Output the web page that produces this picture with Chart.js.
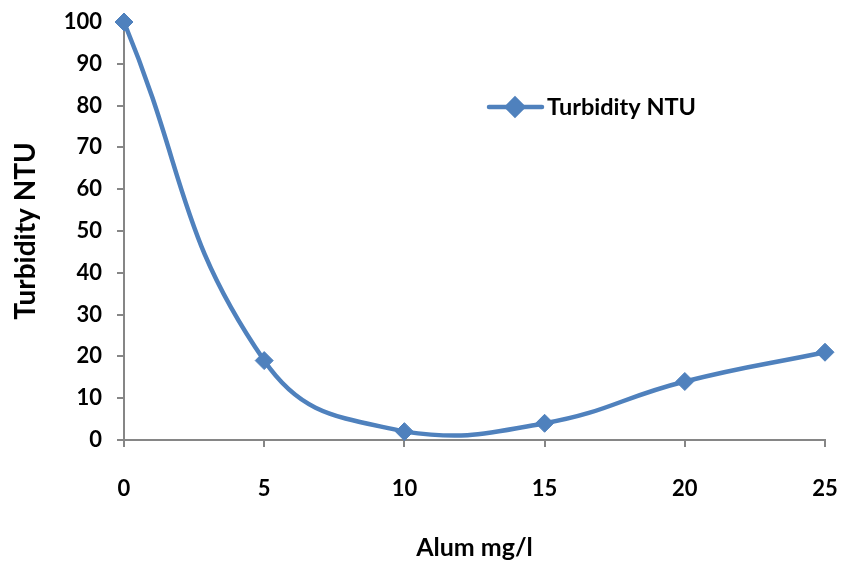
<!DOCTYPE html>
<html lang="en">
<head>
    <meta charset="UTF-8">
    <title>Turbidity vs Alum</title>
    <script src="https://cdn.jsdelivr.net/npm/chart.js"></script>
    <style>
        body {
            margin: 0;
            background: #ffffff;
        }

        .chart-box {
            width: 842px;
            height: 567px;
        }
    </style>
</head>
<body>

    <div class="chart-box">
        <canvas id="graphTurbidity" width="842" height="567"></canvas>
    </div>

    <script>
        // Données
        const alumDoses = [0, 5, 10, 15, 20, 25];
        const turbidity = [100, 19, 2, 4, 14, 21];
        const yTicks = [0, 10, 20, 30, 40, 50, 60, 70, 80, 90, 100];

        const lineColor = '#4F81BD';
        const axisColor = '#868686';
        const fontFamily = 'Lato, "Open Sans", sans-serif';

        // Légende dessinée à la main (ligne + losange) dans la zone du graphique
        const customLegend = {
            id: 'customLegend',
            afterDraw(chart) {
                const ctx = chart.ctx;
                const y = 107;
                ctx.save();
                ctx.strokeStyle = lineColor;
                ctx.lineWidth = 4.5;
                ctx.lineCap = 'round';
                ctx.beginPath();
                ctx.moveTo(489, y);
                ctx.lineTo(542, y);
                ctx.stroke();
                Chart.helpers.drawPoint(ctx, {
                    pointStyle: 'rectRot', radius: 8, borderWidth: 1
                }, 515, y);
                ctx.fillStyle = lineColor;
                ctx.fill();
                ctx.fillStyle = '#000000';
                ctx.font = 'bold 23.5px ' + fontFamily;
                ctx.textBaseline = 'middle';
                ctx.fillText(chart.data.datasets[0].label, 547, y);
                ctx.restore();
            }
        };

        const ctx1 = document.getElementById('graphTurbidity').getContext('2d');
        const graphTurbidity = new Chart(ctx1, {
            type: 'line',
            data: {
                datasets: [{
                    label: 'Turbidity NTU',
                    data: alumDoses.map((x, i) => ({ x: x, y: turbidity[i] })),
                    borderColor: lineColor,
                    backgroundColor: lineColor,
                    borderWidth: 4.5,
                    tension: 0.45,
                    pointStyle: 'rectRot',
                    pointRadius: 9,
                    pointBorderWidth: 1,
                    clip: false
                }]
            },
            options: {
                responsive: false,
                animation: false,
                layout: {
                    padding: { left: 0, right: 17, top: 22, bottom: 0 }
                },
                plugins: {
                    legend: { display: false },
                    tooltip: { enabled: false }
                },
                scales: {
                    x: {
                        type: 'linear',
                        min: 0,
                        max: 25,
                        ticks: {
                            stepSize: 5,
                            padding: 29,
                            color: '#000000',
                            font: { family: fontFamily, size: 22, weight: 'bold' }
                        },
                        grid: {
                            drawOnChartArea: false,
                            tickLength: 7,
                            color: axisColor,
                            lineWidth: 2
                        },
                        border: { color: axisColor, width: 2 },
                        title: {
                            display: true,
                            text: 'Alum mg/l',
                            color: '#000000',
                            font: { family: fontFamily, size: 25, weight: 'bold' },
                            padding: { top: 0, bottom: 4 }
                        },
                        afterFit(scale) {
                            scale.height = 127;
                            scale.paddingLeft = 0;
                            scale.paddingRight = 0;
                        }
                    },
                    y: {
                        min: 0,
                        max: 100,
                        afterBuildTicks(scale) {
                            scale.ticks = yTicks.map(v => ({ value: v }));
                        },
                        ticks: {
                            padding: 15,
                            color: '#000000',
                            font: { family: fontFamily, size: 22, weight: 'bold' }
                        },
                        grid: {
                            drawOnChartArea: false,
                            tickLength: 7,
                            color: axisColor,
                            lineWidth: 2
                        },
                        border: { color: axisColor, width: 2 },
                        title: {
                            display: true,
                            text: 'Turbidity NTU',
                            color: '#000000',
                            font: { family: fontFamily, size: 28, weight: 'bold' },
                            padding: { top: 9, bottom: 0 }
                        },
                        afterFit(scale) {
                            scale.width = 124;
                            scale.paddingTop = 0;
                            scale.paddingBottom = 0;
                        }
                    }
                }
            },
            plugins: [customLegend]
        });
    </script>

</body>
</html>
